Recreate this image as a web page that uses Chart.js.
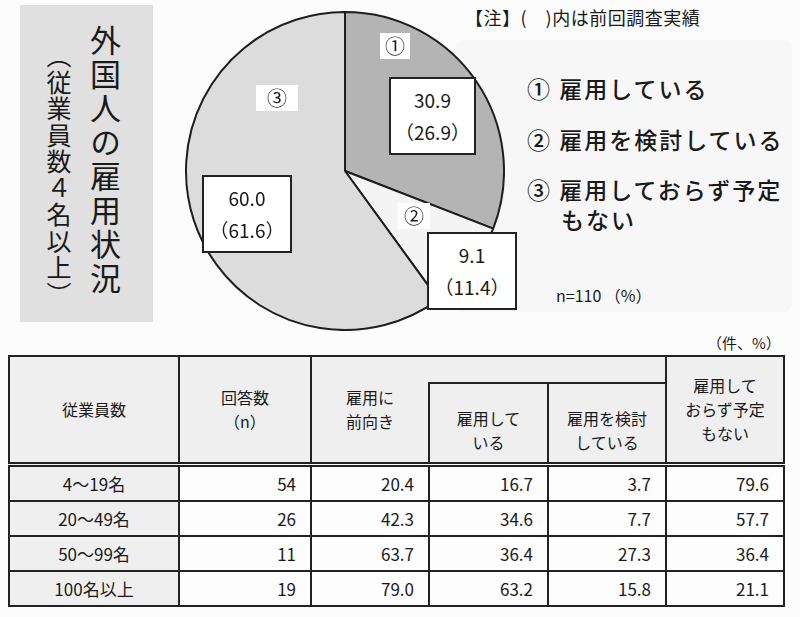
<!DOCTYPE html>
<html lang="ja">
<head>
<meta charset="utf-8">
<script src="https://cdn.jsdelivr.net/npm/chart.js@4.4.0/dist/chart.umd.min.js"></script>
<style>
  html,body{margin:0;padding:0;background:#fcfcfc;}
  body{width:800px;height:617px;position:relative;overflow:hidden;font-family:"Noto Sans CJK JP","Noto Sans",sans-serif;color:#1a1a1a;}
  .abs{position:absolute;}
  #titlePanel{left:20px;top:5px;width:133px;height:317px;background:#e0e0e0;}
  .vt{position:absolute;writing-mode:vertical-rl;text-orientation:upright;white-space:nowrap;line-height:1;}
  #legendBg{left:455px;top:40px;width:337px;height:272px;background:#f7f7f7;border-radius:8px;}
  #pieWrap{left:185px;top:11px;width:320px;height:320px;}
  .vbox{position:absolute;background:#fff;border:2px solid #222;box-sizing:border-box;text-align:center;font-size:19px;line-height:32px;padding-top:5px;}
  .num{position:absolute;background:#fff;font-size:20px;line-height:26px;text-align:center;}
  .leg{position:absolute;font-size:23px;line-height:26px;white-space:nowrap;letter-spacing:2px;font-weight:500;}
  table{position:absolute;left:8px;top:355px;border-collapse:collapse;table-layout:fixed;width:775px;font-size:16px;}
  th,td{border:2px solid #222;padding:0;}
  th{background:#efefef;font-weight:normal;line-height:24px;text-align:center;}
  td{height:33px;text-align:right;padding-right:14px;font-size:17px;background:#fdfdfd;}
  td.first{text-align:center;padding-right:0;background:#efefef;}
  tr.hdr2 th{border-bottom:5px double #222;}
  th.rs{border-bottom:5px double #222;}
</style>
</head>
<body>
<div id="titlePanel" class="abs">
  <div class="vt" id="mainTitle" style="left:70px;top:20px;font-size:31px;letter-spacing:3px;"></div>
  <div class="vt" id="subTitle" style="left:26px;top:38px;font-size:25px;letter-spacing:1.5px;"></div>
</div>
<div id="legendBg" class="abs"></div>
<div id="note" class="abs" style="left:465px;top:4px;font-size:18px;line-height:26px;white-space:nowrap;letter-spacing:0.5px;"></div>
<div id="pieWrap" class="abs"><canvas id="pie" width="320" height="320"></canvas></div>
<div id="labels"></div>
<div id="nlabel" class="abs" style="left:556px;top:283px;font-size:16px;line-height:24px;white-space:nowrap;"></div>
<div id="unit" class="abs" style="left:707px;top:331px;font-size:15px;line-height:24px;white-space:nowrap;"></div>
<table id="tbl"></table>
<script>
// ---- data ----
const titleText = '外国人の雇用状況';
const subtitleText = '（従業員数４名以上）';
const noteText = '【注】(　)内は前回調査実績';
const sampleText = 'n=110 （%）';
const unitText = '（件、%）';
const pieMarks = ['①', '②', '③'];
const pieCategories = ['雇用している', '雇用を検討している', '雇用しておらず予定もない'];
const pieCurrent = [30.9, 9.1, 60.0];
const piePrevious = [26.9, 11.4, 61.6];
const pieColors = ['#b4b4b4', '#f4f4f4', '#dcdcdc'];

const sizeClasses = ['4～19名', '20～49名', '50～99名', '100名以上'];
const respondents = [54, 26, 11, 19];
const positive = [20.4, 42.3, 63.7, 79.0];
const employing = [16.7, 34.6, 36.4, 63.2];
const considering = [3.7, 7.7, 27.3, 15.8];
const noPlan = [79.6, 57.7, 36.4, 21.1];

// ---- texts ----
document.getElementById('mainTitle').textContent = titleText;
document.getElementById('subTitle').textContent = subtitleText;
document.getElementById('note').textContent = noteText;
document.getElementById('nlabel').textContent = sampleText;
document.getElementById('unit').textContent = unitText;

// legend
const legendPos = [[527, 75], [527, 126], [527, 176]];
const labelsDiv = document.getElementById('labels');
pieCategories.forEach((c, i) => {
  const d = document.createElement('div');
  d.className = 'leg';
  d.style.left = legendPos[i][0] + 'px';
  d.style.top = legendPos[i][1] + 'px';
  if (i === 2) {
    d.innerHTML = pieMarks[i] + ' 雇用しておらず予定<br><span style="padding-left:34px">もない</span>';
    d.style.lineHeight = '30px';
    d.style.top = (legendPos[i][1] - 2) + 'px';
  } else {
    d.textContent = pieMarks[i] + ' ' + c;
  }
  labelsDiv.appendChild(d);
});

// pie label annotations (value boxes & circled numbers)
const boxPos = [[389, 77, 87, 78], [427, 232, 90, 78], [202, 175, 90, 78]];
const markPos = [[380, 33, 30], [398, 203, 32], [256, 85, 42]];
pieCurrent.forEach((v, i) => {
  const b = document.createElement('div');
  b.className = 'vbox';
  b.style.left = boxPos[i][0] + 'px';
  b.style.top = boxPos[i][1] + 'px';
  b.style.width = boxPos[i][2] + 'px';
  b.style.height = boxPos[i][3] + 'px';
  b.innerHTML = v.toFixed(1) + '<br>（' + piePrevious[i].toFixed(1) + '）';
  labelsDiv.appendChild(b);
  const m = document.createElement('div');
  m.className = 'num';
  m.style.left = markPos[i][0] + 'px';
  m.style.top = markPos[i][1] + 'px';
  m.style.width = markPos[i][2] + 'px';
  m.textContent = pieMarks[i];
  labelsDiv.appendChild(m);
});

// ---- pie ----
new Chart(document.getElementById('pie'), {
  type: 'pie',
  data: {
    labels: pieCategories,
    datasets: [{
      data: pieCurrent,
      backgroundColor: pieColors,
      borderColor: '#1e1e1e',
      borderWidth: 2
    }]
  },
  options: {
    responsive: false,
    animation: false,
    layout: { padding: 0 },
    plugins: { legend: { display: false }, tooltip: { enabled: false } }
  }
});

// ---- table ----
const tbl = document.getElementById('tbl');
let html = '<colgroup><col style="width:170px"><col style="width:132px"><col style="width:118px"><col style="width:119px"><col style="width:118px"><col style="width:118px"></colgroup>';
html += '<tr style="height:27px">' +
  '<th rowspan="2" class="rs">従業員数</th>' +
  '<th rowspan="2" class="rs">回答数<br>（n）</th>' +
  '<th rowspan="2" class="rs" style="border-right:none;padding-top:0">雇用に<br>前向き</th>' +
  '<th colspan="2" style="border-left:none"></th>' +
  '<th rowspan="2" class="rs">雇用して<br>おらず予定<br>もない</th></tr>';
html += '<tr class="hdr2" style="height:81px"><th style="padding-top:14px">雇用して<br>いる</th><th style="padding-top:14px">雇用を検討<br>している</th></tr>';
sizeClasses.forEach((s, i) => {
  html += '<tr><td class="first">' + s + '</td><td>' + respondents[i] + '</td><td>' + positive[i].toFixed(1) +
    '</td><td>' + employing[i].toFixed(1) + '</td><td>' + considering[i].toFixed(1) + '</td><td>' + noPlan[i].toFixed(1) + '</td></tr>';
});
tbl.innerHTML = html;
</script>
</body>
</html>
